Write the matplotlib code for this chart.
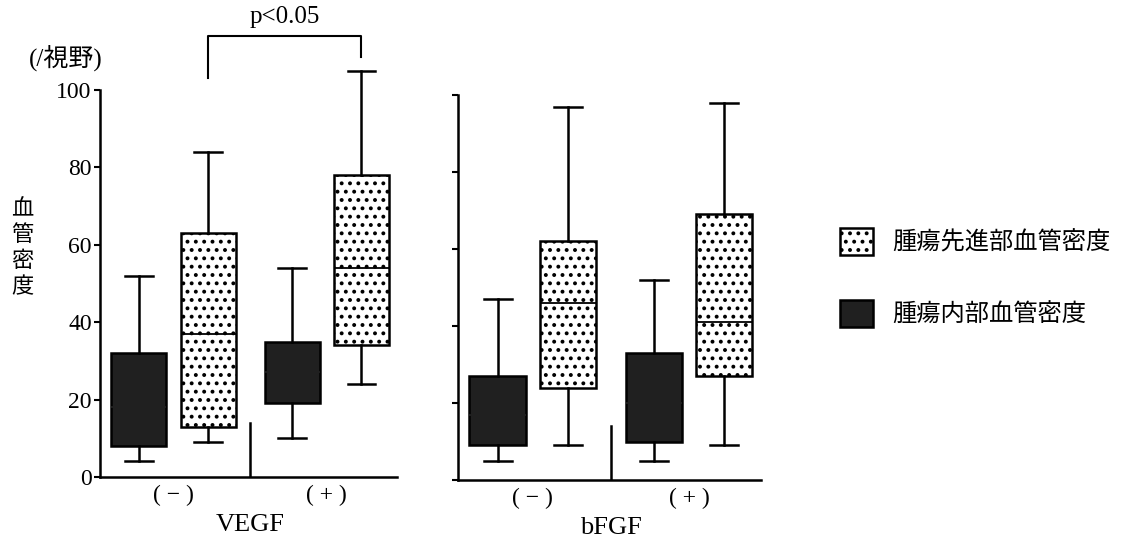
import matplotlib.pyplot as plt
from matplotlib.patches import Patch

plt.rcParams['font.family'] = ['Liberation Serif', 'Noto Sans CJK JP']
plt.rcParams['hatch.linewidth'] = 1.6

groups = ['( − )', '( + )']
factors = ['VEGF', 'bFGF']
series = ['腫瘍先進部血管密度', '腫瘍内部血管密度']
unit = '(/視野)'
ylabel = '血管密度'
yticks = [0, 20, 40, 60, 80, 100]

# whisker low, q1, median, q3, whisker high  -- per group (−), (+)
vegf_front = [[9, 13, 37, 63, 84], [24, 34, 54, 78, 105]]
vegf_inner = [[4, 8, 18, 32, 52], [10, 19, 27, 35, 54]]
bfgf_front = [[9, 24, 46, 62, 97], [9, 27, 41, 69, 98]]
bfgf_inner = [[5, 9, 17, 27, 47], [5, 10, 20, 33, 52]]

sig_text = 'p<0.05'
dark = '#202020'


def stats(rows):
    return [dict(whislo=r[0], q1=r[1], med=r[2], q3=r[3], whishi=r[4]) for r in rows]


def draw(ax, inner, front):
    lw = 1.8
    off = 0.226
    for rows, pos, face, hatch, medc in [(inner, [1 - off, 2 - off], dark, None, dark),
                                         (front, [1 + off, 2 + off], 'white', '..', 'black')]:
        art = ax.bxp(stats(rows), positions=pos, widths=0.36, showfliers=False,
                     patch_artist=True,
                     boxprops=dict(facecolor=face, edgecolor='black', linewidth=lw, hatch=hatch),
                     medianprops=dict(color=medc, linewidth=1.3),
                     whiskerprops=dict(color='black', linewidth=lw),
                     capprops=dict(color='black', linewidth=lw))
        for k in art:
            for a in art[k]:
                a.set_clip_on(False)
    ax.set_xlim(0.52, 2.46)
    ax.set_ylim(0, 100)
    ax.set_yticks(yticks)
    ax.set_xticks([1, 2])
    ax.set_xticklabels(groups, fontsize=17)
    ax.tick_params(axis='x', length=0, pad=6)
    ax.tick_params(axis='y', length=4, width=1.5, direction='out', labelsize=17, pad=2)
    ax.spines['top'].set_visible(False)
    ax.spines['right'].set_visible(False)
    ax.spines['left'].set_linewidth(1.8)
    ax.spines['bottom'].set_linewidth(1.8)
    ax.plot([1.5, 1.5], [0, 14], color='black', linewidth=lw)


fig = plt.figure(figsize=(11.26, 5.42), dpi=100)
ax1 = fig.add_axes([0.0888, 0.12, 0.264, 0.714])
ax2 = fig.add_axes([0.4067, 0.1144, 0.269, 0.71])

draw(ax1, vegf_inner, vegf_front)
draw(ax2, bfgf_inner, bfgf_front)
ax2.set_yticklabels([])

for ax, name in zip([ax1, ax2], factors):
    ax.text(1.5, -0.125, name, transform=ax.get_xaxis_transform(), ha='center', va='center', fontsize=19)

# significance bracket
x1, x2 = 1.226, 2.226
ax1.plot([x1, x1, x2, x2], [103, 114, 114, 108.5], color='black', linewidth=1.5, clip_on=False)
ax1.text((x1 + x2) / 2, 116, sig_text, ha='center', va='bottom', fontsize=18)

fig.text(0.058, 0.893, unit, ha='center', va='center', fontsize=18)
fig.text(0.02, 0.54, '\n'.join(ylabel), ha='center', va='center', fontsize=16, linespacing=1.35)

handles = [Patch(facecolor='white', edgecolor='black', hatch='..', linewidth=1.8),
           Patch(facecolor=dark, edgecolor='black', linewidth=1.8)]
fig.legend(handles, series, loc='upper left', bbox_to_anchor=(0.727, 0.62),
           frameon=False, fontsize=17.5, handlelength=1.35, handleheight=1.35,
           labelspacing=1.85, handletextpad=0.8)

fig.savefig('out.png', dpi=100)
